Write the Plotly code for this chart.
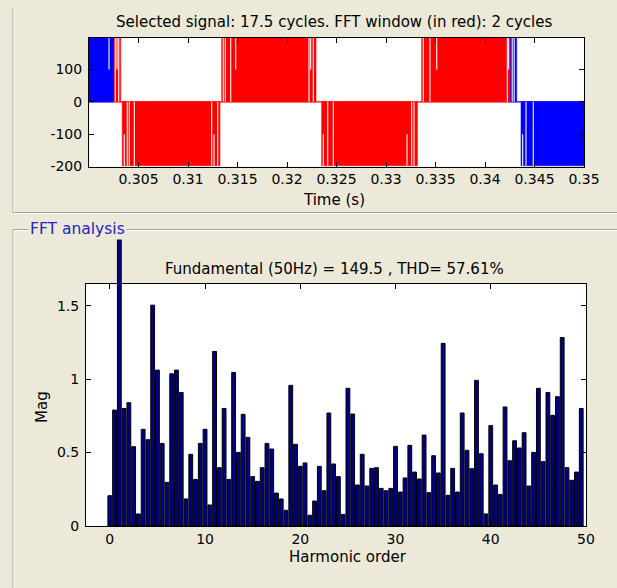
import plotly.graph_objects as go

# ---------------- data ----------------
# Top panel: PWM signal (solid-looking blocks of fast switching), FFT window in red
time_ticks = [0.305, 0.31, 0.315, 0.32, 0.325, 0.33, 0.335, 0.34, 0.345, 0.35]
time_tick_labels = ["0.305", "0.31", "0.315", "0.32", "0.325", "0.33", "0.335", "0.34", "0.345", "0.35"]
volt_ticks = [-200, -100, 0, 100]
volt_tick_labels = ["-200", "-100", "0", "100"]

signal_start, signal_end = 0.3, 0.35
window_start, window_end = 0.30253, 0.34253
amplitude = 198
partial_level = 100

seg_start = [0.3000, 0.30336, 0.31340, 0.32350, 0.33360, 0.34364]
seg_end = [0.30320, 0.31323, 0.32293, 0.33317, 0.34320, 0.35]
seg_sign = [1, -1, 1, -1, 1, -1]

full_gap_t = [0.30266, 0.30300, 0.31357, 0.31377, 0.31431, 0.32222, 0.32266, 0.33377,
              0.33444, 0.34226, 0.34275, 0.34295,
              0.30387, 0.30407, 0.30458, 0.31239, 0.31300, 0.32411, 0.32468, 0.33259,
              0.33283, 0.34414, 0.34488]
full_gap_sign = [1] * 12 + [-1] * 11
partial_gap_t = [0.30202, 0.30283, 0.31482, 0.32239, 0.33512, 0.34238,
                 0.30357, 0.31263, 0.32367, 0.33212, 0.34380]
partial_gap_sign = [1] * 6 + [-1] * 5

# Bottom panel: FFT magnitude vs harmonic order (0 .. 49.5 step 0.5)
harmonic_order = [i / 2 for i in range(100)]
magnitude = [
    0.206, 0.789, 1.95, 0.80, 0.839, 0.54, 0.082, 0.658, 0.587, 1.503,
    1.061, 0.562, 0.297, 1.036, 1.061, 0.909, 0.184, 0.488, 0.317, 0.562,
    0.658, 0.143, 1.188, 0.397, 0.80, 0.317, 1.045, 0.501, 0.76, 0.603,
    0.336, 0.304, 0.397, 0.562, 0.524, 0.224, 0.184, 0.107, 0.957, 0.556,
    0.406, 0.429, 0.073, 0.17, 0.406, 0.24, 0.769, 0.422, 0.336, 0.079,
    0.937, 0.762, 0.279, 0.488, 0.272, 0.392, 0.397, 0.256, 0.24, 0.256,
    0.542, 0.231, 0.327, 0.549, 0.367, 0.32, 0.619, 0.227, 0.478, 0.361,
    1.243, 0.209, 0.392, 0.231, 0.769, 0.515, 0.39, 0.991, 0.492, 0.082,
    0.683, 0.279, 0.215, 0.81, 0.444, 0.58, 0.531, 0.635, 0.272, 0.501,
    0.937, 0.438, 0.909, 0.753, 0.88, 1.283, 0.397, 0.311, 0.367, 0.80,
]
harm_ticks = [0, 10, 20, 30, 40, 50]
harm_tick_labels = ["0", "10", "20", "30", "40", "50"]
mag_ticks = [0, 0.5, 1, 1.5]
mag_tick_labels = ["0", "0.5", "1", "1.5"]
mag_max = 1.645
harm_range = [-2.5, 50]

top_title = "Selected signal: 17.5 cycles. FFT window (in red): 2 cycles"
bottom_title = "Fundamental (50Hz) = 149.5 , THD= 57.61%"

# ---------------- layout helpers ----------------
W, H = 617, 588
def fx(p):
    return p / W
def fy(p):
    return 1 - p / H

BEIGE = "#ECE9D8"
RED = "#FF0000"
BLUE = "#0000FF"
FONT = "DejaVu Sans, Verdana, sans-serif"

fig = go.Figure()

# ---------------- top panel traces ----------------
def pieces(t0, t1):
    """split interval by the FFT window -> list of (a, b, in_window)"""
    cuts = sorted(set([t0, t1] + [c for c in (window_start, window_end) if t0 < c < t1]))
    out = []
    for a, b in zip(cuts[:-1], cuts[1:]):
        mid = (a + b) / 2
        out.append((a, b, window_start <= mid <= window_end))
    return out

poly = {True: ([], []), False: ([], [])}
for t0, t1, s in zip(seg_start, seg_end, seg_sign):
    for a, b, inw in pieces(t0, t1):
        xs, ys = poly[inw]
        xs += [a, a, b, b, a, None]
        ys += [0, s * amplitude, s * amplitude, 0, 0, None]

for inw, col in ((False, BLUE), (True, RED)):
    xs, ys = poly[inw]
    fig.add_trace(go.Scatter(x=xs, y=ys, mode="lines", fill="toself", fillcolor=col,
                             line=dict(color=col, width=0.6), xaxis="x", yaxis="y",
                             hoverinfo="skip", showlegend=False))

# zero level of the signal
for a, b, inw in pieces(signal_start, signal_end):
    fig.add_trace(go.Scatter(x=[a, b], y=[0, 0], mode="lines",
                             line=dict(color=RED if inw else BLUE, width=1.2),
                             xaxis="x", yaxis="y", hoverinfo="skip", showlegend=False))

# white gaps (zero-level intervals visible inside the fast switching)
gx, gy = [], []
for t, s in zip(full_gap_t, full_gap_sign):
    gx += [t, t, None]
    gy += [0, s * amplitude, None]
for t, s in zip(partial_gap_t, partial_gap_sign):
    gx += [t, t, None]
    gy += [s * amplitude, s * partial_level, None]
fig.add_trace(go.Scatter(x=gx, y=gy, mode="lines", line=dict(color="rgba(255,255,255,0.9)", width=1.2),
                         xaxis="x", yaxis="y", hoverinfo="skip", showlegend=False))

# ---------------- bottom panel traces ----------------
in_x = [h for h, m in zip(harmonic_order, magnitude) if m <= mag_max]
in_y = [m for m in magnitude if m <= mag_max]
over_x = [h for h, m in zip(harmonic_order, magnitude) if m > mag_max]
over_y = [m for m in magnitude if m > mag_max]

bar_style = dict(marker=dict(color="#000080", line=dict(color="black", width=1)),
                 width=0.4, hoverinfo="skip", showlegend=False)
fig.add_trace(go.Bar(x=in_x, y=in_y, xaxis="x2", yaxis="y2", **bar_style))
fig.add_trace(go.Bar(x=over_x, y=over_y, xaxis="x2", yaxis="y3", **bar_style))

# ---------------- axes ----------------
top_dom_x = [fx(89), fx(584)]
top_dom_y = [fy(166.5), fy(37.7)]
bot_dom_x = [fx(86), fx(586)]
bot_dom_y = [fy(526), fy(284.3)]
bot_px_per_unit = (526 - 284.3) / mag_max
over_top_px = 228
over_dom_y = [fy(526), fy(over_top_px)]
over_range_top = (526 - over_top_px) / bot_px_per_unit

tickfont = dict(family=FONT, size=14, color="black")
axis_common = dict(showline=True, linecolor="black", linewidth=1, mirror="ticks",
                   ticks="inside", ticklen=5, tickcolor="black", tickwidth=1, automargin=False,
                   showgrid=False, zeroline=False, tickfont=tickfont, fixedrange=True)

fig.update_layout(
    template=None,
    width=W, height=H, autosize=False,
    margin=dict(l=0, r=0, t=0, b=0, pad=0, autoexpand=False),
    paper_bgcolor=BEIGE,
    plot_bgcolor="rgba(0,0,0,0)",
    barmode="overlay",
    showlegend=False,
    xaxis=dict(domain=top_dom_x, range=[signal_start, signal_end], anchor="y",
               tickvals=time_ticks, ticktext=time_tick_labels, ticklabelstandoff=0, **axis_common),
    yaxis=dict(domain=top_dom_y, range=[-200, amplitude], anchor="x",
               tickvals=volt_ticks, ticktext=volt_tick_labels, ticklabelstandoff=3, **axis_common),
    xaxis2=dict(domain=bot_dom_x, range=harm_range, anchor="y2",
                tickvals=harm_ticks, ticktext=harm_tick_labels, ticklabelstandoff=0, **axis_common),
    yaxis2=dict(domain=bot_dom_y, range=[0, mag_max], anchor="x2",
                tickvals=mag_ticks, ticktext=mag_tick_labels, ticklabelstandoff=3, **axis_common),
    yaxis3=dict(domain=over_dom_y, range=[0, over_range_top], anchor="x2", visible=False,
                automargin=False, showgrid=False, zeroline=False, fixedrange=True),
)

# white plot backgrounds
shapes = [
    dict(type="rect", xref="x domain", yref="y domain", x0=0, x1=1, y0=0, y1=1,
         fillcolor="white", line=dict(width=0), layer="below"),
    dict(type="rect", xref="x2 domain", yref="y2 domain", x0=0, x1=1, y0=0, y1=1,
         fillcolor="white", line=dict(width=0), layer="below"),
]
# panel frames (etched lines)
GRAY = "#A0A0A0"
def hline(y, x0, x1):
    return [dict(type="line", xref="paper", yref="paper", x0=fx(x0), x1=fx(x1), y0=fy(y), y1=fy(y),
                 line=dict(color=GRAY, width=1), layer="below"),
            dict(type="line", xref="paper", yref="paper", x0=fx(x0 + 1), x1=fx(x1), y0=fy(y + 1), y1=fy(y + 1),
                 line=dict(color="white", width=1), layer="below")]
def vline(x, y0, y1):
    return [dict(type="line", xref="paper", yref="paper", x0=fx(x), x1=fx(x), y0=fy(y0), y1=fy(y1),
                 line=dict(color=GRAY, width=1), layer="below"),
            dict(type="line", xref="paper", yref="paper", x0=fx(x + 1), x1=fx(x + 1), y0=fy(y0 + 1), y1=fy(y1),
                 line=dict(color="white", width=1), layer="below")]
shapes += vline(13, 8, 212.5) + hline(212.5, 13, 617)
shapes += hline(229.5, 13, 617) + vline(13, 229.5, 588)
fig.update_layout(shapes=shapes)

txt = dict(family=FONT, size=15, color="black")
ann = [
    dict(text=top_title, x=fx(334), y=fy(21.5), xref="paper", yref="paper", showarrow=False,
         xanchor="center", yanchor="middle", font=txt),
    dict(text="Time (s)", x=fx(334), y=fy(199.5), xref="paper", yref="paper", showarrow=False,
         xanchor="center", yanchor="middle", font=txt),
    dict(text=bottom_title, x=fx(334), y=fy(268.5), xref="paper", yref="paper", showarrow=False,
         xanchor="center", yanchor="middle", font=txt),
    dict(text="Harmonic order", x=fx(348), y=fy(557), xref="paper", yref="paper", showarrow=False,
         xanchor="center", yanchor="middle", font=txt),
    dict(text="Mag", x=fx(42), y=fy(407), xref="paper", yref="paper", showarrow=False,
         xanchor="center", yanchor="middle", textangle=-90, font=txt),
    dict(text="FFT analysis", x=fx(28), y=fy(228.5), xref="paper", yref="paper", showarrow=False,
         xanchor="left", yanchor="middle", bgcolor=BEIGE, borderpad=1,
         font=dict(family=FONT, size=15.5, color="#2424C4")),
]
fig.update_layout(annotations=ann)

fig.write_html("out.html", config={"responsive": False},
               post_script="document.body.style.margin='0';document.body.style.overflow='hidden';"
                           "document.body.style.background='" + BEIGE + "';")
